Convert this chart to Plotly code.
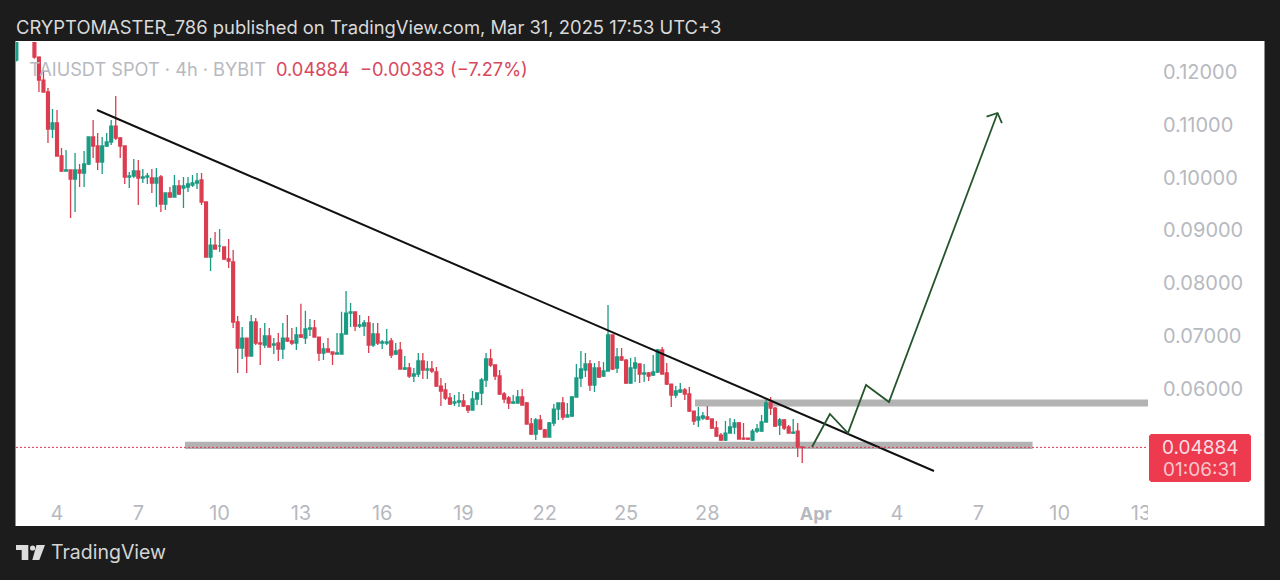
import pandas as pd
import plotly.graph_objects as go

# 4h candles (first few run above the top of the chart)
candle_start = "2025-03-02 12:00"

opens = [
    .12228, .12900, .13100, .13000, .12800, .12284, .11848, .11621, .10920, .11033,
    .10408, .10123, .10142, .09972, .10142, .10085, .10256, .10768, .10597, .10294,
    .10597, .10673, .10976, .10749, .10597, .10010, .10029, .10123, .09991, .10010,
    .09991, .09896, .10010, .09498, .09706, .09630, .09839, .09801, .09820, .09858,
    .09896, .09953, .09536, .08493, .08720, .08702, .08683, .08455, .08398, .07261,
    .06768, .06957, .06616, .07261, .06863, .06825, .06995, .06825, .06863, .06749,
    .06957, .06901, .06863, .07014, .06957, .07128, .07147, .06976, .06673, .06749,
    .06692, .06654, .06654, .07033, .07431, .07450, .07185, .07185, .07242, .06825,
    .07033, .06863, .06863, .06901, .06654, .06730, .06370, .06389, .06237, .06275,
    .06522, .06351, .06370, .06313, .06047, .05972, .05820, .05725, .05744, .05763,
    .05668, .05592, .05801, .05915, .06161, .06559, .06446, .06237, .05896, .05820,
    .05725, .05725, .05839, .05725, .05327, .05137, .05403, .05213, .05080, .05346,
    .05611, .05725, .05460, .05479, .05839, .06199, .06351, .06465, .06066, .06389,
    .06237, .06332, .07014, .06389, .06597, .06540, .06104, .06389, .06465, .06275,
    .06294, .06256, .06313, .06730, .06294, .06085, .05877, .05934, .05972, .05896,
    .05573, .05403, .05441, .05460, .05422, .05251, .05118, .05024, .05156, .05270,
    .05346, .05061, .05061, .05024, .05194, .05194, .05365, .05725, .05630, .05308,
    .05403, .05270, .05156, .05194, .04891,
]
highs = [
    .13000, .13300, .13400, .13100, .12850, .12300, .12038, .11697, .11299, .11280,
    .10559, .10521, .10142, .10465, .10256, .10502, .10768, .11090, .10844, .10768,
    .10844, .11090, .11545, .10768, .10597, .10104, .10351, .10332, .10161, .10085,
    .10161, .10180, .10047, .09706, .09820, .10047, .09953, .10010, .10010, .10047,
    .10085, .10085, .09536, .08853, .08967, .09024, .08683, .08834, .08626, .07374,
    .07166, .06957, .07393, .07337, .07147, .07242, .07147, .06957, .07052, .07242,
    .07393, .07147, .07166, .07605, .07473, .07318, .07299, .06976, .06863, .06957,
    .06692, .07052, .07454, .07848, .07621, .07450, .07393, .07299, .07374, .07242,
    .07242, .06920, .07128, .06957, .06863, .06882, .06616, .06484, .06389, .06673,
    .06673, .06522, .06522, .06408, .06199, .06104, .05915, .05877, .05934, .05896,
    .05687, .05953, .05915, .06199, .06673, .06749, .06446, .06351, .05934, .05858,
    .05877, .05972, .05991, .05744, .05441, .05441, .05498, .05232, .05365, .05706,
    .05725, .05839, .05725, .05858, .06465, .06711, .06673, .06540, .06484, .06522,
    .06503, .07583, .07014, .06768, .06768, .06559, .06578, .06597, .06465, .06465,
    .06313, .06635, .06749, .06787, .06484, .06085, .06047, .06104, .06010, .06029,
    .05573, .05649, .05554, .05668, .05422, .05384, .05156, .05384, .05441, .05422,
    .05365, .05346, .05061, .05232, .05327, .05498, .05782, .05839, .05649, .05441,
    .05422, .05308, .05422, .05346, .04891,
]
lows = [
    .12200, .12750, .12900, .12700, .12250, .11621, .11621, .10654, .10749, .10408,
    .10104, .10123, .09232, .09346, .09820, .09820, .10237, .10370, .10142, .10066,
    .10578, .10616, .10711, .10370, .09877, .09801, .09991, .09479, .09896, .09877,
    .09706, .09441, .09346, .09384, .09611, .09630, .09668, .09422, .09725, .09820,
    .09782, .09479, .08493, .08228, .08645, .08588, .08436, .08284, .07147, .06294,
    .06559, .06294, .06616, .06825, .06446, .06768, .06787, .06654, .06522, .06559,
    .06882, .06825, .06730, .06957, .06844, .06995, .06976, .06522, .06540, .06692,
    .06446, .06654, .06654, .07033, .07166, .07090, .07147, .06995, .06673, .06787,
    .06825, .06749, .06825, .06578, .06635, .06370, .06351, .06199, .06123, .06218,
    .06180, .06180, .06294, .06029, .05668, .05782, .05687, .05668, .05649, .05649,
    .05536, .05592, .05687, .05687, .06029, .06408, .06161, .05877, .05725, .05611,
    .05706, .05725, .05687, .05327, .05118, .05024, .05213, .05080, .05080, .05289,
    .05403, .05403, .05460, .05460, .05839, .06029, .06218, .05953, .05934, .06199,
    .06218, .06332, .06351, .06294, .06522, .06085, .06085, .06123, .06104, .06123,
    .06142, .06237, .06294, .06275, .06066, .05649, .05820, .05915, .05782, .05554,
    .05308, .05270, .05403, .05403, .05232, .05080, .05005, .05005, .05156, .05137,
    .05043, .05024, .05024, .05005, .05156, .05175, .05365, .05498, .05270, .05118,
    .05213, .05156, .05137, .04702, .04588,
]
closes = [
    .12900, .13100, .13000, .12800, .12284, .11848, .11621, .10920, .11033, .10408,
    .10123, .10142, .09972, .10142, .10085, .10256, .10768, .10597, .10294, .10597,
    .10673, .10976, .10749, .10597, .10010, .10029, .10123, .09991, .10010, .10029,
    .09896, .09991, .09498, .09706, .09630, .09839, .09687, .09839, .09877, .09896,
    .09934, .09536, .08493, .08720, .08645, .08702, .08455, .08417, .07261, .06768,
    .06957, .06616, .07261, .06863, .06844, .06995, .06787, .06844, .06749, .06957,
    .06901, .06863, .07014, .06976, .07128, .07147, .06976, .06673, .06749, .06692,
    .06654, .06673, .07033, .07431, .07450, .07185, .07204, .07242, .06825, .07033,
    .06863, .06882, .06882, .06635, .06711, .06370, .06389, .06237, .06275, .06522,
    .06351, .06370, .06332, .06047, .05953, .05820, .05706, .05744, .05763, .05668,
    .05592, .05801, .05915, .06161, .06559, .06446, .06237, .05896, .05801, .05725,
    .05744, .05839, .05687, .05327, .05137, .05403, .05232, .05080, .05346, .05611,
    .05725, .05460, .05498, .05839, .06199, .06370, .06465, .06066, .06389, .06218,
    .06332, .07014, .06370, .06597, .06540, .06104, .06389, .06484, .06275, .06294,
    .06237, .06313, .06730, .06275, .06085, .05877, .05953, .05972, .05896, .05573,
    .05384, .05460, .05479, .05422, .05251, .05099, .05024, .05156, .05270, .05346,
    .05043, .05043, .05043, .05194, .05232, .05365, .05725, .05630, .05289, .05403,
    .05251, .05156, .05175, .04891, .04884,
]

last_price = 0.04884
price_ticks = [0.06, 0.07, 0.08, 0.09, 0.10, 0.11, 0.12]
date_ticks = ["2025-03-04", "2025-03-07", "2025-03-10", "2025-03-13", "2025-03-16",
              "2025-03-19", "2025-03-22", "2025-03-25", "2025-03-28", "2025-04-01",
              "2025-04-04", "2025-04-07", "2025-04-10", "2025-04-13"]
date_labels = ["4", "7", "10", "13", "16", "19", "22", "25", "28",
               '<b style="font-size:18px">Apr</b>', "4", "7", "10", "13"]

# hand-drawn annotations
trend_x = ["2025-03-05 11:25", "2025-04-05 08:40"]
trend_y = [0.11280, 0.04436]
path_x = ["2025-03-31 20:40", "2025-04-01 12:30", "2025-04-02 04:30",
          "2025-04-02 20:30", "2025-04-03 16:50", "2025-04-07 17:00"]
path_y = [0.04891, 0.05517, 0.05156, 0.06066, 0.05744, 0.11223]
head_x = ["2025-04-07 07:15", "2025-04-07 17:00", "2025-04-07 20:50"]
head_y = [0.11153, 0.11223, 0.11033]
upper_band = ["2025-03-27 13:00", "2025-04-13 07:00", 0.05660, 0.05790]
lower_band = ["2025-03-08 17:20", "2025-04-09 00:00", 0.04853, 0.04990]

DARK = "#1c1c1c"
GREY = "#b7b9c0"
RED = "#da3d50"
GREEN = "#1b9a84"
FONT = "Inter"
PLOT_L, PLOT_R, PLOT_T, PLOT_B = 16, 1148, 42, 490


def px(x):
    return (x - PLOT_L) / (PLOT_R - PLOT_L)


def py(y):
    return (PLOT_B - y) / (PLOT_B - PLOT_T)


def label(x, y, text, color, size=18.0, anchor="left"):
    return dict(x=px(x), y=py(y), xref="paper", yref="paper", text=text, showarrow=False,
                xanchor=anchor, yanchor="middle", font=dict(family=FONT, size=size, color=color))


def box(x0, y0, x1, y1, color, layer="below"):
    return dict(type="rect", xref="paper", yref="paper", x0=px(x0), x1=px(x1), y0=py(y0), y1=py(y1),
                fillcolor=color, line_width=0, layer=layer)


def poly(points, color):
    d = "M " + " L ".join(f"{px(x):.5f},{py(y):.5f}" for x, y in points) + " Z"
    return dict(type="path", xref="paper", yref="paper", path=d, fillcolor=color, line_width=0)


dates = pd.date_range(candle_start, periods=len(opens), freq="4h")

fig = go.Figure()
fig.add_trace(go.Candlestick(
    x=dates, open=opens, high=highs, low=lows, close=closes,
    increasing=dict(line=dict(color=GREEN, width=1.3), fillcolor=GREEN),
    decreasing=dict(line=dict(color=RED, width=1.3), fillcolor=RED),
    whiskerwidth=0, hoverinfo="skip",
))
fig.add_trace(go.Scatter(x=trend_x, y=trend_y, mode="lines", line=dict(color="#111111", width=2)))
fig.add_trace(go.Scatter(x=path_x, y=path_y, mode="lines", line=dict(color="#25552d", width=1.8)))
fig.add_trace(go.Scatter(x=head_x, y=head_y, mode="lines", line=dict(color="#25552d", width=1.8)))

shapes = [
    box(15.5, 41, 1264.5, 526, "white"),
    dict(type="rect", x0=upper_band[0], x1=upper_band[1], y0=upper_band[2], y1=upper_band[3],
         fillcolor="#b3b3b3", line_width=0, layer="below"),
    dict(type="rect", x0=lower_band[0], x1=lower_band[1], y0=lower_band[2], y1=lower_band[3],
         fillcolor="#b3b3b3", line_width=0, layer="below"),
    dict(type="line", xref="paper", x0=0, x1=1, y0=last_price, y1=last_price,
         line=dict(color=RED, width=1, dash="2px,2px")),
    poly([(1151, 434), (1249, 434), (1251, 436), (1251, 480), (1249, 482), (1151, 482),
          (1149, 480), (1149, 436)], "#ee3a4f"),
    box(1148, 495, 1160, 520, "white", "above"),  # the last date label is cut by the price scale
    # TradingView logo
    poly([(16, 545), (28.3, 545), (28.3, 560), (21.7, 560), (21.7, 550), (16, 550)], "#dcdcdc"),
    dict(type="circle", xref="paper", yref="paper", x0=px(30), x1=px(35.2), y0=py(545.4), y1=py(550.6),
         fillcolor="#dcdcdc", line_width=0),
    poly([(36.5, 545), (45, 545), (39.3, 560), (32.3, 560)], "#dcdcdc"),
]

annotations = [
    label(14, 27, "CRYPTOMASTER_786 published on TradingView.com, Mar 31, 2025 17:53 UTC+3", "#d9d9d9", 18.4),
    label(27, 69, "TAIUSDT SPOT · 4h · BYBIT", GREY, 18.2),
    label(274, 69, "0.04884  −0.00383 (−7.27%)", "#d8485c", 18.3),
    label(1200, 447, "0.04884", "#f6dfe2", 19, "center"),
    label(1200, 469, "01:06:31", "#f6c6cc", 19, "center"),
    label(49, 552, "TradingView", "#d4d4d4", 19.5),
]

fig.update_layout(
    width=1280,
    height=580,
    margin=dict(l=PLOT_L, r=1280 - PLOT_R, t=PLOT_T, b=580 - PLOT_B),
    paper_bgcolor=DARK,
    plot_bgcolor="rgba(0,0,0,0)",
    showlegend=False,
    shapes=shapes,
    annotations=annotations,
    boxgap=0.1,
    font=dict(family=FONT, size=20, color=GREY),
)
fig.update_xaxes(
    type="date",
    range=["2025-03-02 11:41", "2025-04-13 06:14"],
    rangeslider_visible=False,
    tickmode="array", tickvals=date_ticks, ticktext=date_labels,
    showgrid=False, zeroline=False, showline=False,
    ticks="outside", ticklen=5, tickcolor="rgba(0,0,0,0)",
)
fig.update_yaxes(
    side="right",
    range=[0.04076, 0.12569],
    tickmode="array", tickvals=price_ticks, tickformat=".5f",
    showgrid=False, zeroline=False, showline=False,
    ticks="outside", ticklen=10, tickcolor="rgba(0,0,0,0)",
)

fig.write_html("out.html", config={"displayModeBar": False},
               post_script="document.body.style.margin='0';")
